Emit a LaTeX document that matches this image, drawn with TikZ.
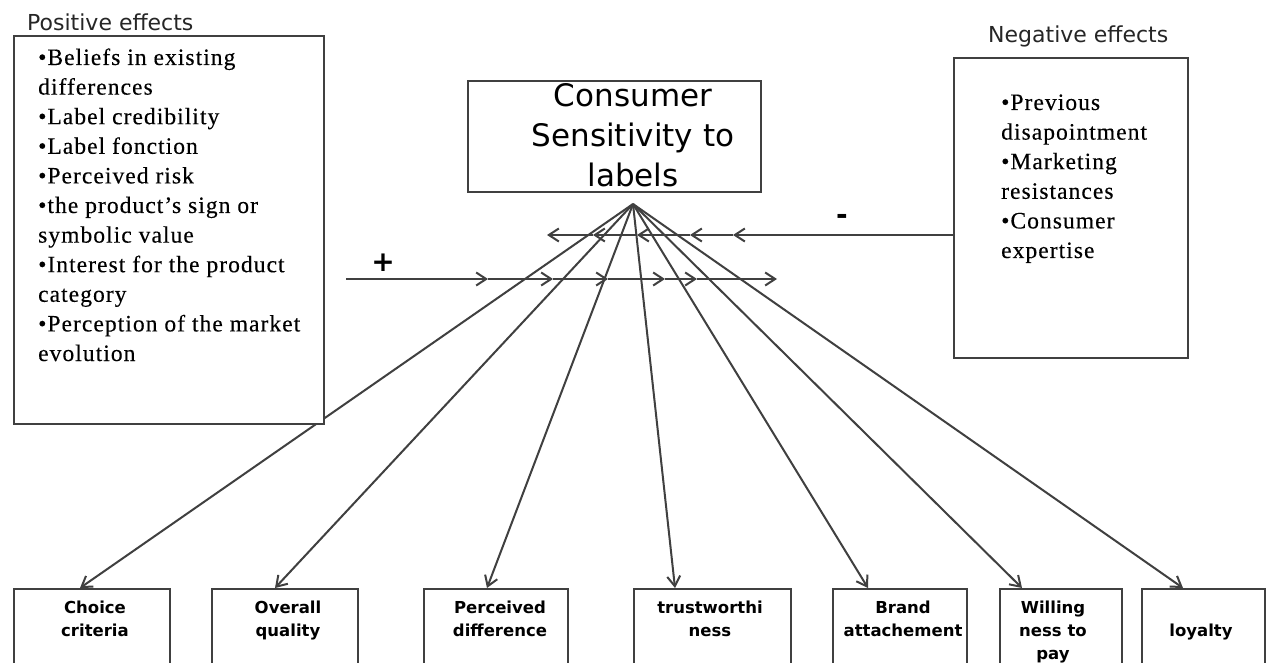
\documentclass[tikz,border=0pt]{standalone}
\usepackage{fontspec}
\setmainfont{Liberation Serif}
\newfontfamily\dejavu{DejaVu Sans}
\newfontfamily\serifls{Liberation Serif}[LetterSpace=4.5, FakeBold=0.3]
\usetikzlibrary{arrows.meta}
\tikzset{
  frame/.style={draw=black!75, line width=2pt, fill=white, inner sep=0pt, anchor=north west},
  arr/.style={draw=black!75, line width=2pt, -{Straight Barb[length=10pt,width=13pt,line width=2pt]}},
  ptext/.style={font=\serifls\fontsize{23.5pt}{29.6pt}\selectfont, anchor=base west, inner sep=0pt},
  htext/.style={font=\dejavu\fontsize{22pt}{26pt}\selectfont, text=black!85, anchor=base west, inner sep=0pt},
  ctext/.style={font=\dejavu\fontsize{31pt}{40pt}\selectfont, anchor=base, inner sep=0pt},
  btext/.style={font=\dejavu\bfseries\fontsize{16.5pt}{23pt}\selectfont, text=black, anchor=base, inner sep=0pt},
  sign/.style={font=\dejavu\bfseries\fontsize{28pt}{30pt}\selectfont, inner sep=0pt},
}
\begin{document}
\begin{tikzpicture}[x=1pt,y=-1pt]
\useasboundingbox (0,0) rectangle (1269,663);
\clip (0,0) rectangle (1269,663);
\fill[white] (0,0) rectangle (1269,663);

% fan of arrows
\coordinate (apex) at (633,204);
\coordinate (t1) at (80,588);
\coordinate (t2) at (275,588);
\coordinate (t3) at (487,588);
\coordinate (t4) at (675,588);
\coordinate (t5) at (868,588);
\coordinate (t6) at (1022,588);
\coordinate (t7) at (1183,588);
\foreach \i in {1,...,7} \draw[arr] (apex) -- (t\i);

% positive line
\coordinate (p0) at (346,279);
\coordinate (p1) at (488,279);
\coordinate (p2) at (553,279);
\coordinate (p3) at (608,279);
\coordinate (p4) at (665,279);
\coordinate (p5) at (697,279);
\coordinate (p6) at (777,279);
\draw[arr] (p0) -- (p1);
\draw[arr] (p1) -- (p2);
\draw[arr] (p2) -- (p3);
\draw[arr] (p3) -- (p4);
\draw[arr] (p4) -- (p5);
\draw[arr] (p5) -- (p6);
\node[sign] (plus) at (383,263) {+};

% negative line
\coordinate (m0) at (963,235);
\coordinate (m1) at (733,235);
\coordinate (m2) at (690,235);
\coordinate (m3) at (637,235);
\coordinate (m4) at (593,235);
\coordinate (m5) at (547,235);
\draw[arr] (m0) -- (m1);
\draw[arr] (m1) -- (m2);
\draw[arr] (m2) -- (m3);
\draw[arr] (m3) -- (m4);
\draw[arr] (m4) -- (m5);
\node[sign] (minus) at (842,219) {-};

% boxes
\node[frame, minimum width=310pt, minimum height=388pt] (posbox) at (13,35) {};
\node[frame, minimum width=234pt, minimum height=300pt] (negbox) at (953,57) {};
\node[frame, minimum width=293pt, minimum height=111pt] (center) at (467,80) {};
\node[frame, minimum width=156pt, minimum height=112pt] (b1) at (13,588) {};
\node[frame, minimum width=146pt, minimum height=112pt] (b2) at (211,588) {};
\node[frame, minimum width=144pt, minimum height=112pt] (b3) at (423,588) {};
\node[frame, minimum width=157pt, minimum height=112pt] (b4) at (633,588) {};
\node[frame, minimum width=134pt, minimum height=112pt] (b5) at (832,588) {};
\node[frame, minimum width=122pt, minimum height=112pt] (b6) at (999,588) {};
\node[frame, minimum width=123pt, minimum height=112pt] (b7) at (1141,588) {};

% headings
\node[htext] (poshead) at (27,31) {Positive effects};
\node[htext] (neghead) at (988,43) {Negative effects};

% center text
\node[ctext] (c1) at (633,107) {Consumer};
\node[ctext] (c2) at (633,147) {Sensitivity to};
\node[ctext] (c3) at (633,187) {labels};

% positive text
\node[ptext] (pl1) at (38,65) {•Beliefs in existing};
\node[ptext] (pl2) at (38,94.6) {differences};
\node[ptext] (pl3) at (38,124.2) {•Label credibility};
\node[ptext] (pl4) at (38,153.8) {•Label fonction};
\node[ptext] (pl5) at (38,183.4) {•Perceived risk};
\node[ptext] (pl6) at (38,213) {•the product’s sign or};
\node[ptext] (pl7) at (38,242.6) {symbolic value};
\node[ptext] (pl8) at (38,272.2) {•Interest for the product};
\node[ptext] (pl9) at (38,301.8) {category};
\node[ptext] (pl10) at (38,331.4) {•Perception of the market};
\node[ptext] (pl11) at (38,361) {evolution};

% negative text
\node[ptext] (nl1) at (1001,110) {•Previous};
\node[ptext] (nl2) at (1001,139.6) {disapointment};
\node[ptext] (nl3) at (1001,169.2) {•Marketing};
\node[ptext] (nl4) at (1001,198.8) {resistances};
\node[ptext] (nl5) at (1001,228.4) {•Consumer};
\node[ptext] (nl6) at (1001,258) {expertise};

% bottom texts
\node[btext] (x1a) at (95,613) {Choice};
\node[btext] (x1b) at (95,636) {criteria};
\node[btext] (x2a) at (288,613) {Overall};
\node[btext] (x2b) at (288,636) {quality};
\node[btext] (x3a) at (500,613) {Perceived};
\node[btext] (x3b) at (500,636) {difference};
\node[btext] (x4a) at (710,613) {trustworthi};
\node[btext] (x4b) at (710,636) {ness};
\node[btext] (x5a) at (903,613) {Brand};
\node[btext] (x5b) at (903,636) {attachement};
\node[btext] (x6a) at (1053,613) {Willing};
\node[btext] (x6b) at (1053,636) {ness to};
\node[btext] (x6c) at (1053,659) {pay};
\node[btext] (x7a) at (1201,636) {loyalty};
\end{tikzpicture}
\end{document}
